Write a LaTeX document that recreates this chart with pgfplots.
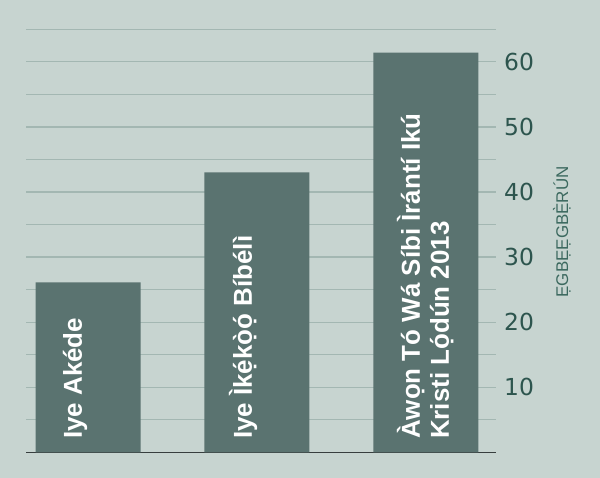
\documentclass[border=0pt]{standalone}
\usepackage{pgfplots}
\pgfplotsset{compat=1.18}
\usepackage{fontspec}
\setmainfont{Liberation Sans}
\newfontfamily\tickfont{DejaVu Sans}
\definecolor{bgcol}{RGB}{199,212,208}
\definecolor{gridcol}{RGB}{163,183,178}
\definecolor{barcol}{RGB}{90,115,112}
\definecolor{basecol}{RGB}{55,62,62}
\definecolor{tickcol}{RGB}{45,85,78}
\definecolor{labcol}{RGB}{60,105,95}

\begin{document}
\begin{tikzpicture}
    % background of the whole picture
    \fill[bgcol] (0,0) rectangle (600bp,478bp);

    \begin{axis}[
        at={(26bp,25.6bp)},
        anchor=south west,
        scale only axis,
        width=470bp,
        height=423.2bp,
        xmin=-0.367, xmax=2.415,
        ymin=0, ymax=65,
        axis x line*=bottom,
        axis y line*=right,
        x axis line style={-, draw=basecol, line width=1.5bp},
        y axis line style={draw=none},
        xtick=\empty,
        ytick={10,20,30,40,50,60},
        minor ytick={5,15,25,35,45,55,65},
        major tick length=0pt,
        minor tick length=0pt,
        ymajorgrids=true,
        yminorgrids=true,
        grid style={draw=gridcol, line width=1.3bp},
        minor grid style={draw=gridcol, line width=1.3bp},
        /pgf/number format/assume math mode=true,
        yticklabel style={anchor=west, inner sep=0pt, xshift=8bp,
            text=tickcol, font=\tickfont\fontsize{23.5}{24}\selectfont},
        ylabel={ẸGBẸẸGBẸ̀RÚN},
        ylabel style={at={(axis description cs:1.14,0.521)}, anchor=center,
            text=labcol, font=\fontsize{17}{18}\selectfont},
        clip=false,
    ]
        \addplot[ybar, bar width=105bp, fill=barcol, draw=none] coordinates {
            (0, 26.1) (1, 43.0) (2, 61.4)
        };

        % labels written up the bars
        \begin{scope}[every node/.style={rotate=90, anchor=base west, inner sep=0pt,
                text=white, font=\bfseries\fontsize{26}{28}\selectfont}]
            \node at (axis cs:-0.036,2.06) {Iye Akéde};
            \node at (axis cs:0.970,2.06) {Iye Ìkẹ́kọ̀ọ́ Bíbélì};
            \node at (axis cs:1.964,2.06) {Àwọn Tó Wá Síbi Ìrántí Ikú};
            \node at (axis cs:2.136,2.06) {Kristi Lọ́dún 2013};
        \end{scope}
    \end{axis}

    \pgfresetboundingbox
    \useasboundingbox (0,0) rectangle (600bp,478bp);
\end{tikzpicture}
\end{document}
